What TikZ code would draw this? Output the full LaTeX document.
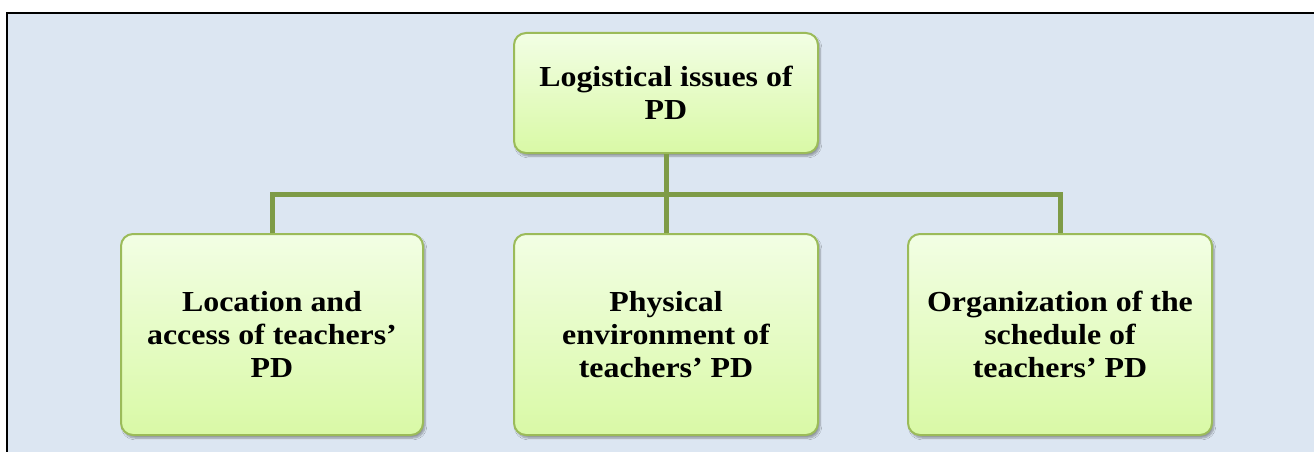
\documentclass[tikz,border=0pt]{standalone}
\usepackage{fontspec}
\setmainfont[FakeStretch=1.1]{Liberation Serif}
\usetikzlibrary{shadows.blur}
\definecolor{panelbg}{HTML}{DCE6F2}
\definecolor{boxedge}{HTML}{9BBB59}
\definecolor{boxtop}{HTML}{F2FEE4}
\definecolor{boxbottom}{HTML}{D9F9A6}
\definecolor{linkcol}{HTML}{7E9B47}
\tikzset{
  topicbox/.style={rectangle, rounded corners=12pt, draw=boxedge, line width=2pt,
    top color=boxtop, bottom color=boxbottom, align=center,
    font=\fontsize{29}{33}\selectfont\bfseries,
    blur shadow={shadow xshift=2pt, shadow yshift=-3pt, shadow blur steps=6, shadow opacity=35}},
  link/.style={draw=linkcol, line width=5pt}
}
\begin{document}
\begin{tikzpicture}[x=1pt, y=-1pt]
  \useasboundingbox (0,0) rectangle (1314,452);
  % panel behind the chart
  \fill[panelbg] (7,13) rectangle (1320,460);
  \draw[black, line width=1.5pt] (7,460) -- (7,13) -- (1320,13);
  % boxes
  \node[topicbox, minimum width=304pt, minimum height=120pt] (root) at (666,93) {Logistical issues of\\PD};
  \node[topicbox, minimum width=302pt, minimum height=201pt] (loc) at (272,334.5) {Location and\\access of teachers'\\PD};
  \node[topicbox, minimum width=304pt, minimum height=201pt] (env) at (666,334.5) {Physical\\environment of\\teachers' PD};
  \node[topicbox, minimum width=304pt, minimum height=201pt] (org) at (1060,334.5) {Organization of the\\schedule of\\teachers' PD};
  % connectors: trunk from the root and the branching bar
  \coordinate (bar) at (666,194);
  \draw[link] (root.south) -- (env.north);
  \draw[link] (loc.north) -- (loc.north |- bar) -- (org.north |- bar) -- (org.north);
\end{tikzpicture}
\end{document}
